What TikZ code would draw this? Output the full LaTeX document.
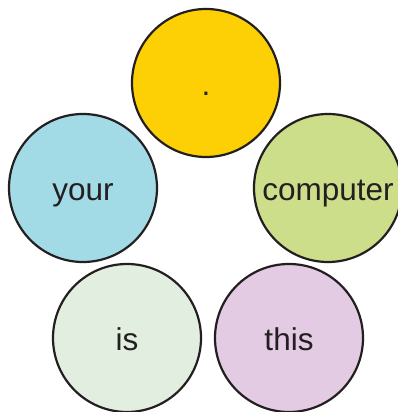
\documentclass[tikz,border=0pt]{standalone}
\usepackage{fontspec}
\setmainfont{Liberation Sans}
\usetikzlibrary{positioning}
\definecolor{mygold}{RGB}{253,208,5}
\definecolor{myblue}{RGB}{162,218,230}
\definecolor{mygreen}{RGB}{204,222,138}
\definecolor{mymint}{RGB}{226,238,223}
\definecolor{mylilac}{RGB}{227,204,227}
\definecolor{myink}{RGB}{35,31,32}

\begin{document}
\begin{tikzpicture}[x=1pt,y=1pt,
  petal/.style={circle,draw=myink,line width=2.2pt,minimum size=148pt,inner sep=0pt,
        text=myink,font=\fontsize{31.5}{36}\selectfont,text height=28pt,text depth=3pt}]
  \useasboundingbox (0,0) rectangle (398,412);
  \node[petal,fill=mygold] (dot) at (206,329) {.};
  \node[petal,fill=myblue] (your) at (83,224) {your};
  \node[petal,fill=mygreen] (computer) at (328,224) {computer};
  \node[petal,fill=mymint] (is) at (127,74) {is};
  \node[petal,fill=mylilac] (this) at (289,74) {this};
\end{tikzpicture}
\end{document}
